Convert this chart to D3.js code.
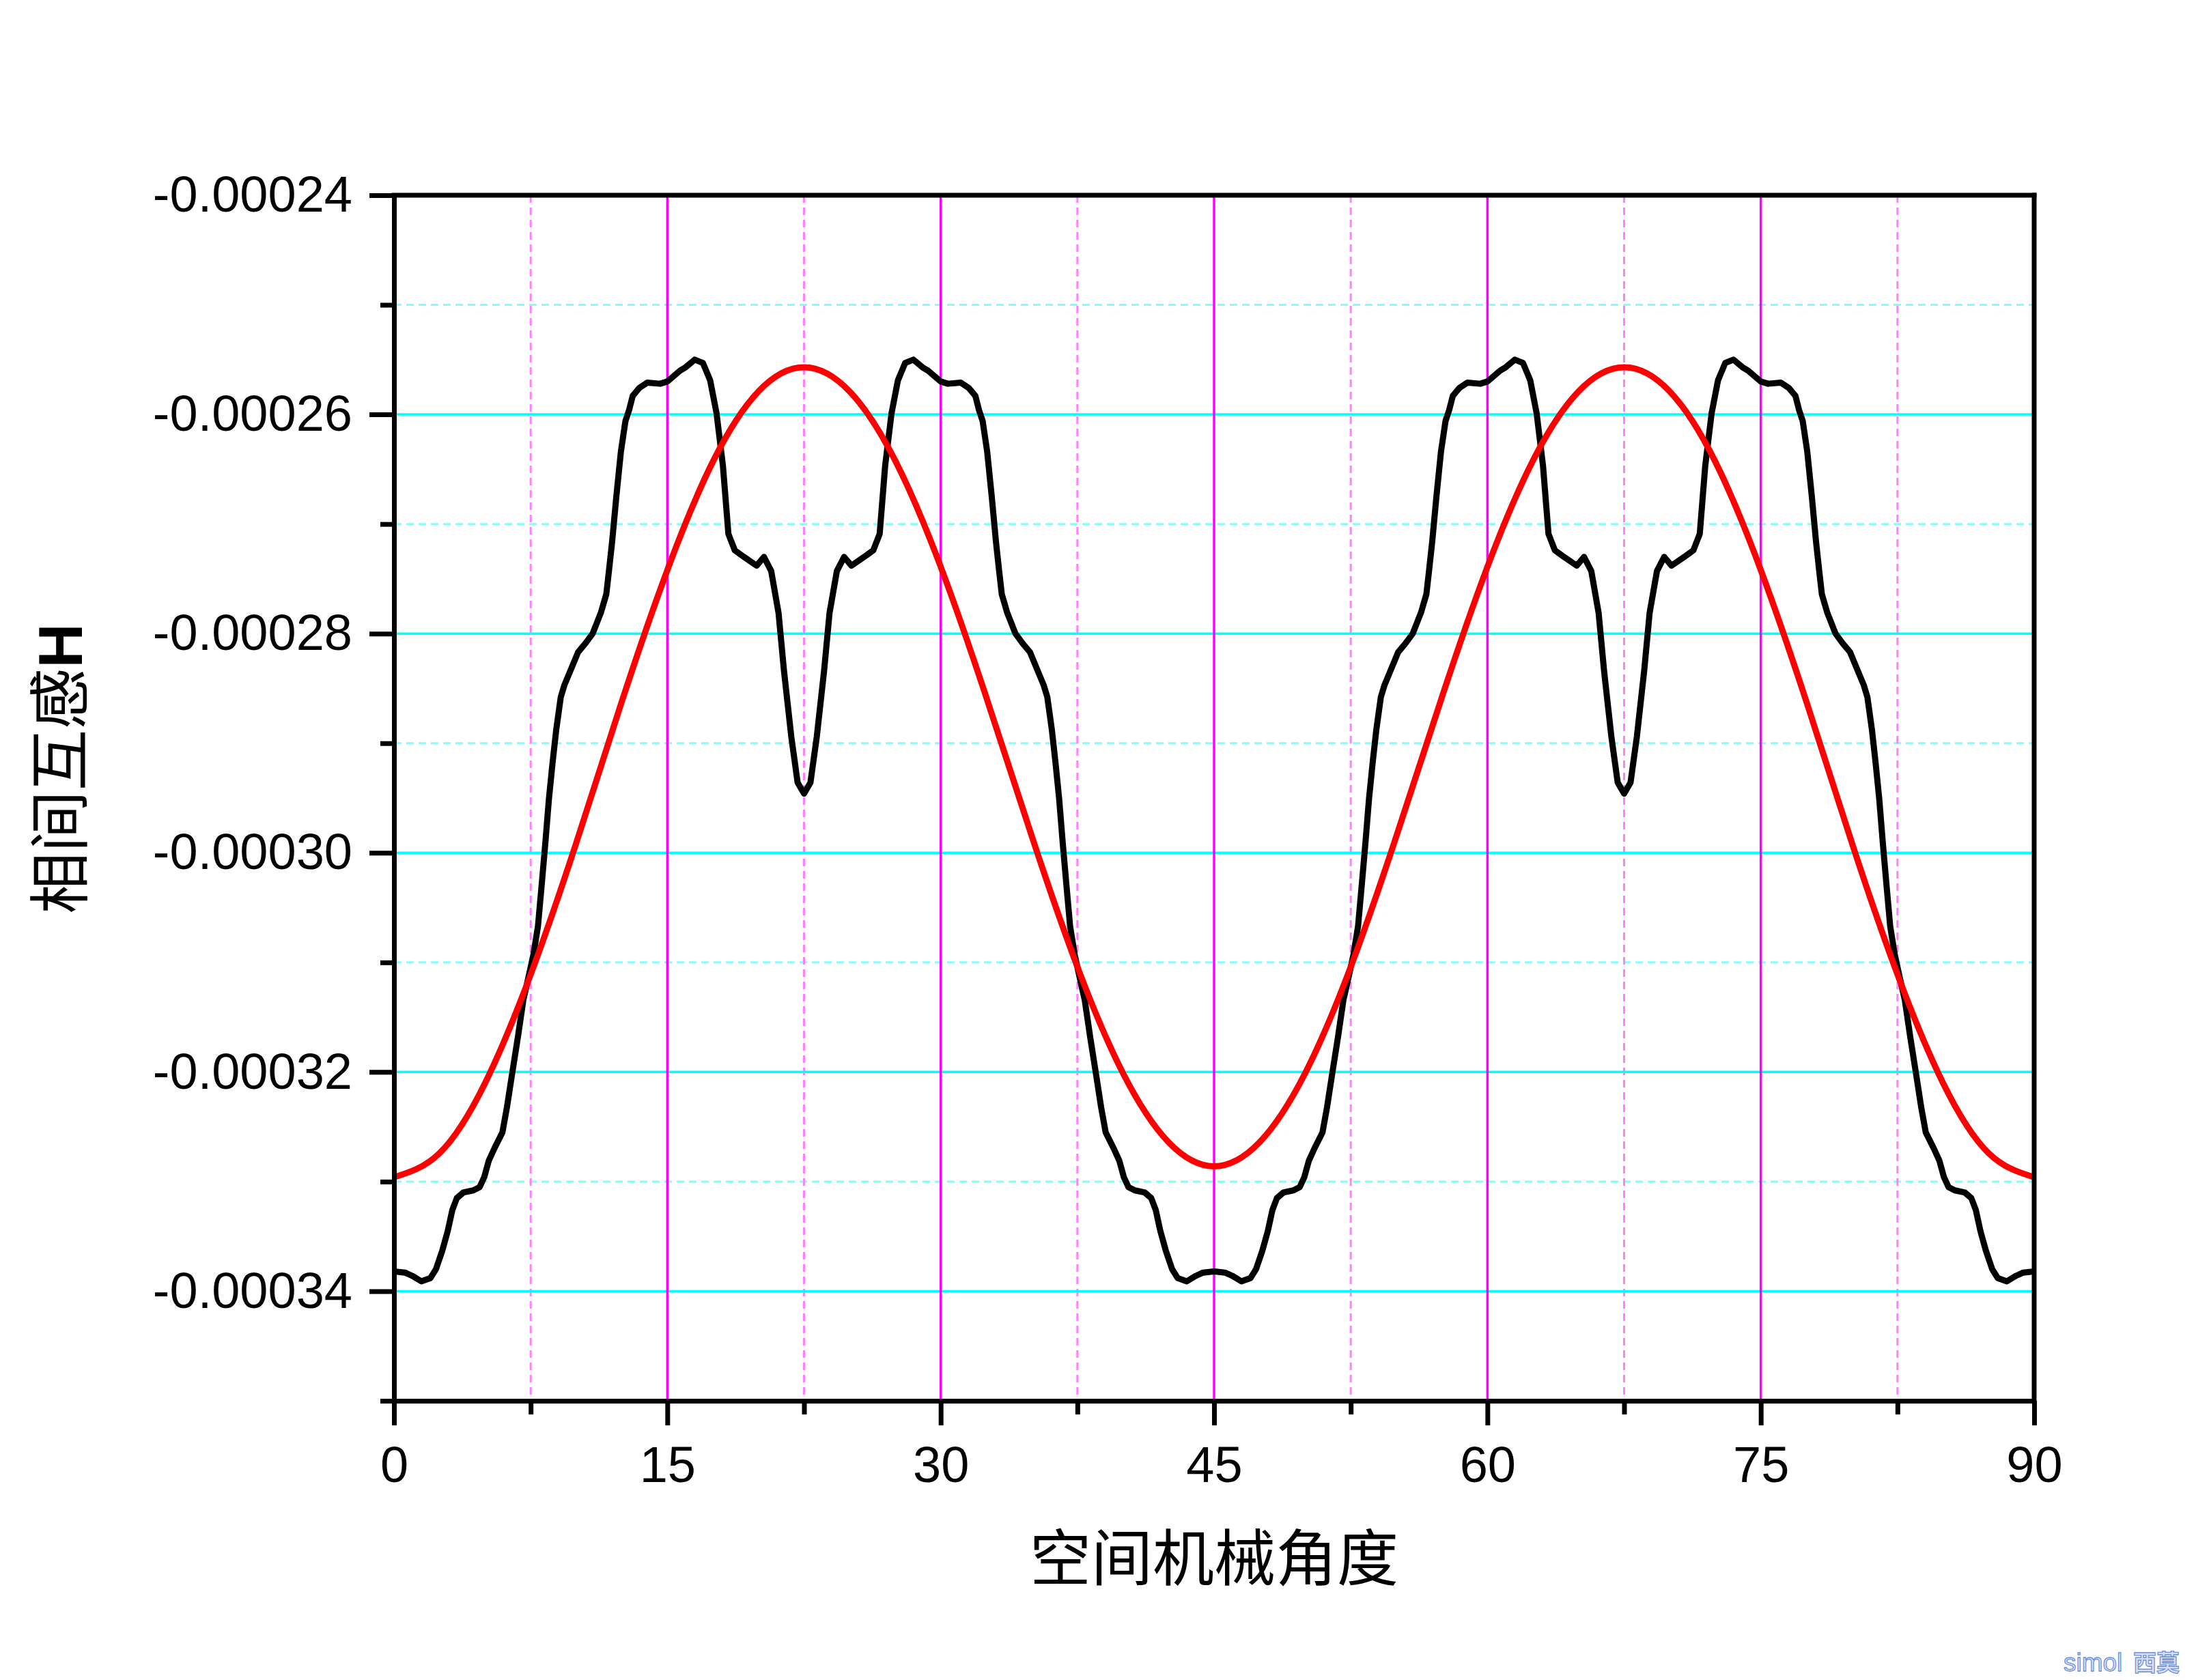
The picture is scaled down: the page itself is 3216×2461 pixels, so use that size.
<!DOCTYPE html>
<html><head><meta charset="utf-8">
<script src="https://cdn.jsdelivr.net/npm/d3@7"></script>
<style>body{margin:0;background:#fff}</style>
</head><body>
<svg id="chart" width="3216" height="2461"></svg>
<script>
const xTickValues = [0, 15, 30, 45, 60, 75, 90];
const xTickLabels = ["0", "15", "30", "45", "60", "75", "90"];
const xMinorValues = [7.5, 22.5, 37.5, 52.5, 67.5, 82.5];
const yTickValues = [-0.00024, -0.00026, -0.00028, -0.0003, -0.00032, -0.00034];
const yTickLabels = ["-0.00024", "-0.00026", "-0.00028", "-0.00030", "-0.00032", "-0.00034"];
const yMinorValues = [-0.00025, -0.00027, -0.00029, -0.00031, -0.00033, -0.00035];
const xTitle = "空间机械角度";
const yTitleCJK = "相间互感";
const yTitleUnit = "H";

const blackAngles = [
 0, 0.6, 1.0, 1.5, 2.0, 2.3, 2.65, 2.95, 3.2, 3.45, 3.8, 4.35, 4.7, 4.95, 5.2, 5.5, 5.95, 6.2, 6.45, 6.8,
 7.1, 7.4, 7.65, 7.9, 8.1, 8.3, 8.5, 8.7, 8.9, 9.15, 9.35, 9.65, 10.1, 10.5, 10.9, 11.35, 11.65, 11.8, 11.97, 12.2,
 12.45, 12.7, 12.9, 13.1, 13.45, 13.9, 14.6, 15.0, 15.7, 16.0, 16.5, 16.95, 17.35, 17.7, 18.05, 18.35, 18.7, 19.2, 19.9, 20.3,
 20.7, 21.1, 21.4, 21.8, 22.15, 22.5,
 22.85, 23.2, 23.6, 23.9, 24.3, 24.7, 25.1, 25.8, 26.3, 26.65, 26.95, 27.3, 27.65, 28.05, 28.5, 29.0, 29.3, 30.0, 30.4, 31.1,
 31.55, 31.9, 32.1, 32.3, 32.55, 32.8, 33.03, 33.2, 33.35, 33.65, 34.1, 34.5, 34.9, 35.35, 35.65, 35.85, 36.1, 36.3, 36.5, 36.7,
 36.9, 37.1, 37.35, 37.6, 37.9, 38.2, 38.55, 38.8, 39.05, 39.5, 39.8, 40.05, 40.3, 40.65, 41.2, 41.55, 41.8, 42.05, 42.35, 42.7,
 43.0, 43.5, 44.0, 44.4, 45,
 45.6, 46.0, 46.5, 47.0, 47.3, 47.65, 47.95, 48.2, 48.45, 48.8, 49.35, 49.7, 49.95, 50.2, 50.5, 50.95, 51.2, 51.45, 51.8, 52.1,
 52.4, 52.65, 52.9, 53.1, 53.3, 53.5, 53.7, 53.9, 54.15, 54.35, 54.65, 55.1, 55.5, 55.9, 56.35, 56.65, 56.8, 56.97, 57.2, 57.45,
 57.7, 57.9, 58.1, 58.45, 58.9, 59.6, 60.0, 60.7, 61.0, 61.5, 61.95, 62.35, 62.7, 63.05, 63.35, 63.7, 64.2, 64.9, 65.3, 65.7,
 66.1, 66.4, 66.8, 67.15, 67.5,
 67.85, 68.2, 68.6, 68.9, 69.3, 69.7, 70.1, 70.8, 71.3, 71.65, 71.95, 72.3, 72.65, 73.05, 73.5, 74.0, 74.3, 75.0, 75.4, 76.1,
 76.55, 76.9, 77.1, 77.3, 77.55, 77.8, 78.03, 78.2, 78.35, 78.65, 79.1, 79.5, 79.9, 80.35, 80.65, 80.85, 81.1, 81.3, 81.5, 81.7,
 81.9, 82.1, 82.35, 82.6, 82.9, 83.2, 83.55, 83.8, 84.05, 84.5, 84.8, 85.05, 85.3, 85.65, 86.2, 86.55, 86.8, 87.05, 87.35, 87.7,
 88.0, 88.5, 89.0, 89.4, 90
];
const blackValues = [
 -0.0003382, -0.0003383, -0.0003386, -0.0003391, -0.0003388, -0.000338, -0.0003363, -0.0003345, -0.0003326, -0.0003315,
 -0.000331, -0.0003308, -0.0003305, -0.0003296, -0.0003281, -0.000327, -0.0003255, -0.0003232, -0.0003205, -0.0003168,
 -0.0003134, -0.0003112, -0.0003093, -0.0003067, -0.000303, -0.0002992, -0.0002951, -0.0002918, -0.0002888, -0.0002858,
 -0.0002847, -0.0002835, -0.0002817, -0.0002809, -0.00028, -0.0002781, -0.0002764, -0.0002742, -0.0002716, -0.0002675,
 -0.0002634, -0.0002606, -0.0002596, -0.0002583, -0.0002576, -0.0002571, -0.0002572, -0.000257, -0.000256, -0.0002557,
 -0.000255, -0.0002553, -0.0002569, -0.0002599, -0.0002647, -0.0002709, -0.0002724, -0.000273, -0.0002738, -0.000273,
 -0.0002743, -0.0002781, -0.0002834, -0.0002894, -0.0002936, -0.0002946,
 -0.0002936, -0.0002894, -0.0002834, -0.0002781, -0.0002743, -0.000273, -0.0002738, -0.000273, -0.0002724, -0.0002709,
 -0.0002647, -0.0002599, -0.0002569, -0.0002553, -0.000255, -0.0002557, -0.000256, -0.000257, -0.0002572, -0.0002571,
 -0.0002576, -0.0002583, -0.0002596, -0.0002606, -0.0002634, -0.0002675, -0.0002716, -0.0002742, -0.0002764, -0.0002781,
 -0.00028, -0.0002809, -0.0002817, -0.0002835, -0.0002847, -0.0002858, -0.0002888, -0.0002918, -0.0002951, -0.0002992,
 -0.000303, -0.0003067, -0.0003093, -0.0003112, -0.0003134, -0.0003168, -0.0003205, -0.0003232, -0.0003255, -0.000327,
 -0.0003281, -0.0003296, -0.0003305, -0.0003308, -0.000331, -0.0003315, -0.0003326, -0.0003345, -0.0003363, -0.000338,
 -0.0003388, -0.0003391, -0.0003386, -0.0003383, -0.0003382,
 -0.0003383, -0.0003386, -0.0003391, -0.0003388, -0.000338, -0.0003363, -0.0003345, -0.0003326, -0.0003315,
 -0.000331, -0.0003308, -0.0003305, -0.0003296, -0.0003281, -0.000327, -0.0003255, -0.0003232, -0.0003205, -0.0003168,
 -0.0003134, -0.0003112, -0.0003093, -0.0003067, -0.000303, -0.0002992, -0.0002951, -0.0002918, -0.0002888, -0.0002858,
 -0.0002847, -0.0002835, -0.0002817, -0.0002809, -0.00028, -0.0002781, -0.0002764, -0.0002742, -0.0002716, -0.0002675,
 -0.0002634, -0.0002606, -0.0002596, -0.0002583, -0.0002576, -0.0002571, -0.0002572, -0.000257, -0.000256, -0.0002557,
 -0.000255, -0.0002553, -0.0002569, -0.0002599, -0.0002647, -0.0002709, -0.0002724, -0.000273, -0.0002738, -0.000273,
 -0.0002743, -0.0002781, -0.0002834, -0.0002894, -0.0002936, -0.0002946,
 -0.0002936, -0.0002894, -0.0002834, -0.0002781, -0.0002743, -0.000273, -0.0002738, -0.000273, -0.0002724, -0.0002709,
 -0.0002647, -0.0002599, -0.0002569, -0.0002553, -0.000255, -0.0002557, -0.000256, -0.000257, -0.0002572, -0.0002571,
 -0.0002576, -0.0002583, -0.0002596, -0.0002606, -0.0002634, -0.0002675, -0.0002716, -0.0002742, -0.0002764, -0.0002781,
 -0.00028, -0.0002809, -0.0002817, -0.0002835, -0.0002847, -0.0002858, -0.0002888, -0.0002918, -0.0002951, -0.0002992,
 -0.000303, -0.0003067, -0.0003093, -0.0003112, -0.0003134, -0.0003168, -0.0003205, -0.0003232, -0.0003255, -0.000327,
 -0.0003281, -0.0003296, -0.0003305, -0.0003308, -0.000331, -0.0003315, -0.0003326, -0.0003345, -0.0003363, -0.000338,
 -0.0003388, -0.0003391, -0.0003386, -0.0003383, -0.0003382
];

const redAngles = [0, 2.5, 5, 7.5, 10, 12.5, 15, 17.5, 20, 22.5, 25, 27.5, 30, 32.5, 35, 37.5, 40, 42.5, 45,
  47.5, 50, 52.5, 55, 57.5, 60, 62.5, 65, 67.5, 70, 72.5, 75, 77.5, 80, 82.5, 85, 87.5, 90];
const redValues = [-0.0003296, -0.0003274, -0.000321, -0.0003111, -0.0002991, -0.0002862, -0.0002742, -0.0002643, -0.0002579,
  -0.0002557, -0.0002579, -0.0002642, -0.0002739, -0.0002858, -0.0002985, -0.0003104, -0.0003201, -0.0003264, -0.0003286,
  -0.0003264, -0.0003201, -0.0003104, -0.0002985, -0.0002858, -0.0002739, -0.0002642, -0.0002579, -0.0002557, -0.0002579,
  -0.0002643, -0.0002742, -0.0002862, -0.0002991, -0.0003111, -0.000321, -0.0003274, -0.0003296];

// ---------- layout ----------
const W = 3216, H = 2461;
const plot = {left: 577, right: 2979, top: 286, bottom: 2052};
const AX_W = 7;
const svg = d3.select("#chart");
svg.append("rect").attr("width", W).attr("height", H).attr("fill", "#fff");

const x = d3.scaleLinear().domain([0, 90]).range([plot.left, plot.right]);
const y = d3.scaleLinear().domain([-0.00035, -0.00024]).range([plot.bottom, plot.top]);

// gridlines
const grid = svg.append("g");
grid.selectAll("line.ymin").data(yMinorValues.filter(v => v > -0.000349)).join("line")
  .attr("class", "ymin")
  .attr("x1", plot.left).attr("x2", plot.right)
  .attr("y1", d => y(d)).attr("y2", d => y(d))
  .attr("stroke", "#80ffff").attr("stroke-width", 3).attr("stroke-dasharray", "11,7");
grid.selectAll("line.xmin").data(xMinorValues).join("line")
  .attr("class", "xmin")
  .attr("x1", d => x(d)).attr("x2", d => x(d))
  .attr("y1", plot.top).attr("y2", plot.bottom)
  .attr("stroke", "#ff80ff").attr("stroke-width", 3).attr("stroke-dasharray", "11,7");
grid.selectAll("line.ymaj").data(yTickValues.filter(v => v < -0.000241)).join("line")
  .attr("class", "ymaj")
  .attr("x1", plot.left).attr("x2", plot.right)
  .attr("y1", d => y(d)).attr("y2", d => y(d))
  .attr("stroke", "#00ffff").attr("stroke-width", 3.5);
grid.selectAll("line.xmaj").data(xTickValues.filter(v => v > 0 && v < 90)).join("line")
  .attr("class", "xmaj")
  .attr("x1", d => x(d)).attr("x2", d => x(d))
  .attr("y1", plot.top).attr("y2", plot.bottom)
  .attr("stroke", "#ff00ff").attr("stroke-width", 3.5);

// curves
svg.append("clipPath").attr("id", "clip").append("rect")
  .attr("x", plot.left).attr("y", plot.top)
  .attr("width", plot.right - plot.left).attr("height", plot.bottom - plot.top);
const curves = svg.append("g").attr("clip-path", "url(#clip)");

const nB = Math.min(blackAngles.length, blackValues.length);
const blackData = d3.range(nB).map(i => [blackAngles[i], blackValues[i]]);
const redData = d3.range(Math.min(redAngles.length, redValues.length)).map(i => [redAngles[i], redValues[i]]);

curves.append("path").datum(blackData)
  .attr("fill", "none").attr("stroke", "#000").attr("stroke-width", 9)
  .attr("stroke-linejoin", "round")
  .attr("d", d3.line().x(d => x(d[0])).y(d => y(d[1])).curve(d3.curveLinear));
curves.append("path").datum(redData)
  .attr("fill", "none").attr("stroke", "#ff0000").attr("stroke-width", 9)
  .attr("d", d3.line().x(d => x(d[0])).y(d => y(d[1])).curve(d3.curveNatural));

// axes
const FONT = "'Liberation Sans', Arial, sans-serif";
function styleAxis(g) {
  g.attr("font-family", FONT).attr("font-size", 74);
  g.selectAll("path.domain").attr("stroke", "#000").attr("stroke-width", AX_W);
  g.selectAll(".tick line").attr("stroke", "#000").attr("stroke-width", AX_W);
  g.selectAll(".tick text").attr("fill", "#000");
}
svg.append("g").attr("transform", `translate(${plot.left},0)`)
  .call(d3.axisLeft(y).tickValues(yMinorValues).tickSize(20).tickSizeOuter(0).tickFormat(""))
  .call(styleAxis);
svg.append("g").attr("transform", `translate(${plot.left},0)`)
  .call(d3.axisLeft(y).tickValues(yTickValues).tickSize(36).tickSizeOuter(0).tickPadding(25)
        .tickFormat((d, i) => yTickLabels[i]))
  .call(styleAxis);
svg.append("g").attr("transform", `translate(0,${plot.bottom})`)
  .call(d3.axisBottom(x).tickValues(xMinorValues).tickSize(20).tickSizeOuter(0).tickFormat(""))
  .call(styleAxis);
svg.append("g").attr("transform", `translate(0,${plot.bottom})`)
  .call(d3.axisBottom(x).tickValues(xTickValues).tickSize(36).tickSizeOuter(0).tickPadding(30)
        .tickFormat((d, i) => xTickLabels[i]))
  .call(styleAxis);

// frame top & right
svg.append("line").attr("x1", plot.left - AX_W / 2).attr("x2", plot.right + AX_W / 2)
  .attr("y1", plot.top).attr("y2", plot.top).attr("stroke", "#000").attr("stroke-width", AX_W);
svg.append("line").attr("x1", plot.right).attr("x2", plot.right)
  .attr("y1", plot.top - AX_W / 2).attr("y2", plot.bottom + AX_W / 2).attr("stroke", "#000").attr("stroke-width", AX_W);

// titles
svg.append("text").attr("x", 1778).attr("y", 2315)
  .attr("text-anchor", "middle")
  .attr("font-family", "'Noto Sans CJK SC', sans-serif").attr("font-size", 90)
  .attr("fill", "#000").text(xTitle);

const yt = svg.append("text").attr("transform", "translate(120,1126) rotate(-90)")
  .attr("text-anchor", "middle").attr("font-size", 90).attr("fill", "#000");
yt.append("tspan").attr("font-family", "'Noto Sans CJK SC', sans-serif").text(yTitleCJK);
yt.append("tspan").attr("font-family", FONT).attr("font-weight", "bold").text(yTitleUnit);

// watermark
svg.append("text").attr("x", 3022).attr("y", 2448)
  .attr("font-family", FONT).attr("font-size", 37)
  .attr("fill", "#d6e1f7").attr("stroke", "#6f93d6").attr("stroke-width", 1.3)
  .text("simol");
svg.append("text").attr("x", 3124).attr("y", 2448)
  .attr("font-family", "'Noto Sans CJK SC', sans-serif").attr("font-weight", "bold").attr("font-size", 34)
  .attr("fill", "#d6e1f7").attr("stroke", "#6f93d6").attr("stroke-width", 1.3)
  .text("西莫");
</script>
</body></html>
